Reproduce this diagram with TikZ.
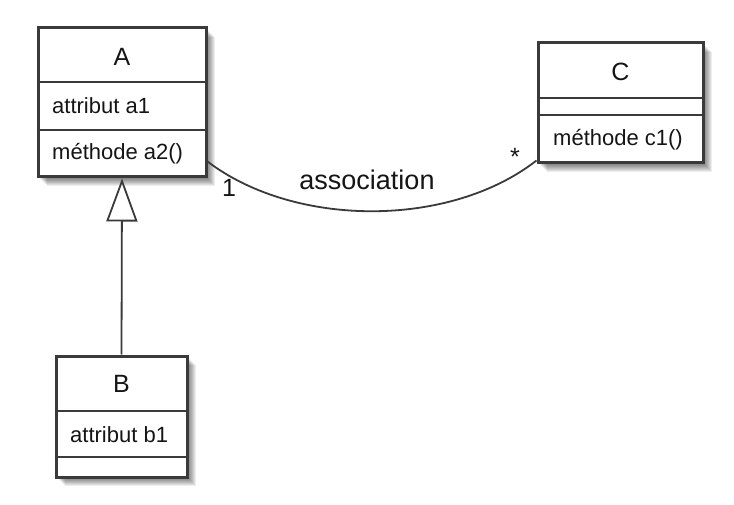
\documentclass[tikz,border=0pt]{standalone}
\usepackage{fontspec}
\setmainfont{Liberation Sans}
\usetikzlibrary{calc,arrows.meta}
\definecolor{bordc}{HTML}{3A3A3A}
\definecolor{txtc}{HTML}{151515}
\tikzset{
  cls/.style={draw=bordc, line width=3pt, fill=white, inner sep=0pt, rectangle},
  divider/.style={draw=bordc, line width=2.5pt},
  nametxt/.style={text=txtc, font=\fontsize{25pt}{29pt}\selectfont, inner sep=0pt},
  membtxt/.style={text=txtc, font=\fontsize{22pt}{26pt}\selectfont, inner sep=0pt, anchor=west},
  conn/.style={draw=bordc, line width=1.8pt},
  lbl/.style={text=txtc, inner sep=0pt},
}
\newcommand{\boxshadow}[1]{%
  \foreach \d in {2,...,9}{%
    \fill[black, opacity=0.07] ($(#1.south west)+(\d,\d)$) rectangle ($(#1.north east)+(\d,\d)$);
  }%
}
\begin{document}
\begin{tikzpicture}[x=1pt,y=-1pt]
\useasboundingbox[fill=white] (0,0) rectangle (734,505);
% box placeholders for shadows
\path (122,102.5) node[minimum width=168pt, minimum height=149pt, inner sep=0pt] (A) {};
\path (620.5,103) node[minimum width=165pt, minimum height=120pt, inner sep=0pt] (C) {};
\path (121.5,416.5) node[minimum width=131pt, minimum height=121pt, inner sep=0pt] (B) {};
\boxshadow{A}
\boxshadow{C}
\boxshadow{B}
% class boxes
\node[cls, minimum width=168pt, minimum height=149pt] (Abox) at (A) {};
\node[cls, minimum width=165pt, minimum height=120pt] (Cbox) at (C) {};
\node[cls, minimum width=131pt, minimum height=121pt] (Bbox) at (B) {};
% dividers
\draw[divider] (Abox.west |- 0,82) -- (Abox.east |- 0,82);
\draw[divider] (Abox.west |- 0,130) -- (Abox.east |- 0,130);
\draw[divider] (Cbox.west |- 0,98) -- (Cbox.east |- 0,98);
\draw[divider] (Cbox.west |- 0,115) -- (Cbox.east |- 0,115);
\draw[divider] (Bbox.west |- 0,411) -- (Bbox.east |- 0,411);
\draw[divider] (Bbox.west |- 0,457) -- (Bbox.east |- 0,457);
% texts
\node[nametxt] (An) at (122,57) {A};
\node[membtxt] (Aa) at (52,106) {attribut a1};
\node[membtxt] (Am) at (52,154) {méthode a2()};
\node[nametxt] (Cn) at (620.5,72) {C};
\node[membtxt] (Cm) at (553,140) {méthode c1()};
\node[nametxt] (Bn) at (121.5,384) {B};
\node[membtxt] (Ba) at (70,435) {attribut b1};
% generalization
\draw[conn, -{Triangle[open, length=43pt, width=31pt, fill=white]}] (Bbox.north) -- (Abox.south);
% association
\coordinate (aL) at ($(Abox.south east)+(0,-17)$);
\coordinate (aR) at ($(Cbox.south west)+(0,-4)$);
\draw[conn] (aL) .. controls (295,228) and (450,228) .. (aR);
\node[lbl, font=\fontsize{27pt}{31pt}\selectfont] (asso) at (367,180) {association};
\node[lbl, font=\fontsize{25pt}{29pt}\selectfont] (m1) at (229,188) {1};
\node[lbl, font=\fontsize{25pt}{29pt}\selectfont] (m2) at (515,157) {*};
\end{tikzpicture}
\end{document}
